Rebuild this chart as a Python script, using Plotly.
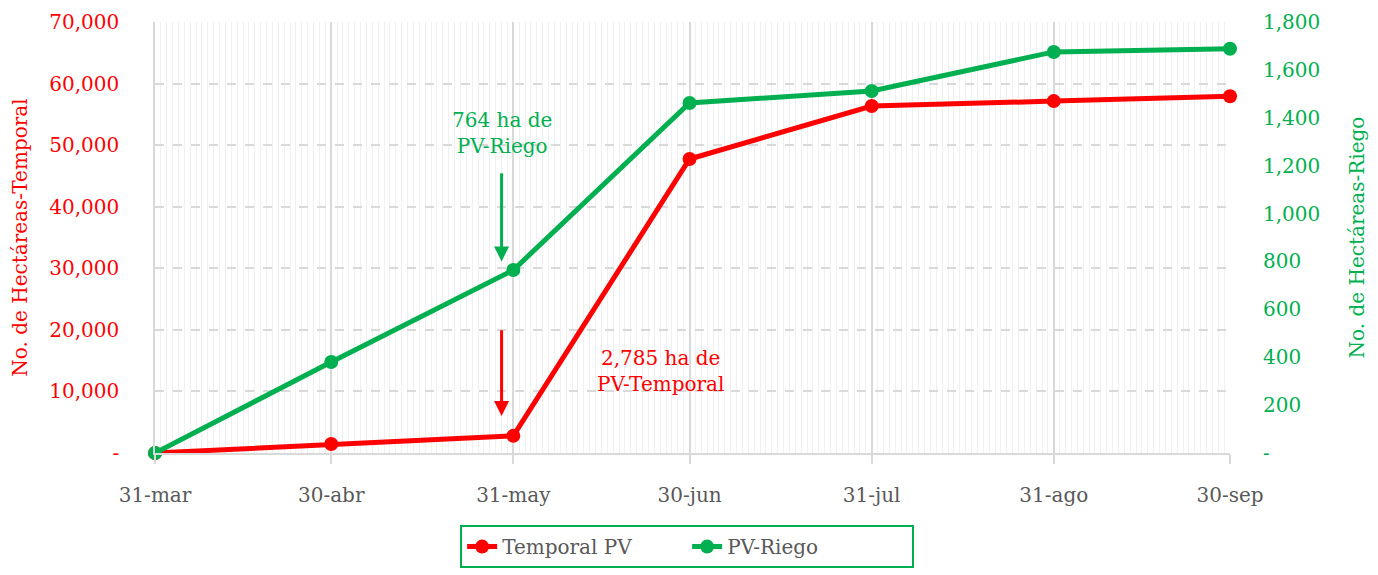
import plotly.graph_objects as go

dates = ["2023-03-31", "2023-04-30", "2023-05-31", "2023-06-30", "2023-07-31", "2023-08-31", "2023-09-30"]
tick_labels = ["31-mar", "30-abr", "31-may", "30-jun", "31-jul", "31-ago", "30-sep"]
temporal = [0, 1450, 2785, 47750, 56350, 57150, 57950]
riego = [0, 380, 764, 1462, 1512, 1675, 1688]

y1_ticks = list(range(0, 70001, 10000))
y1_text = ["-"] + [f"{v:,}" for v in y1_ticks[1:]]
y2_ticks = list(range(0, 1801, 200))
y2_text = ["-"] + [f"{v:,}" for v in y2_ticks[1:]]

RED = "#FF0000"
GREEN = "#00B050"
GRAY = "#595959"
FONT = "DejaVu Serif"
FS = 20

fig = go.Figure()
fig.add_trace(go.Scatter(
    x=dates, y=temporal, name="Temporal PV", mode="lines+markers",
    line=dict(color=RED, width=5), marker=dict(size=14, color=RED),
    cliponaxis=False, yaxis="y"))
fig.add_trace(go.Scatter(
    x=dates, y=riego, name="PV-Riego", mode="lines+markers",
    line=dict(color=GREEN, width=5), marker=dict(size=14, color=GREEN),
    cliponaxis=False, yaxis="y2"))

# annotations
fig.add_annotation(x="2023-05-29", y=800, xref="x", yref="y2",
                   ax="2023-05-29", ay=1175, axref="x", ayref="y2",
                   showarrow=True, arrowhead=2, arrowsize=1, arrowwidth=3,
                   arrowcolor=GREEN, text="")
fig.add_annotation(x="2023-05-29", y=6000, xref="x", yref="y",
                   ax="2023-05-29", ay=20200, axref="x", ayref="y",
                   showarrow=True, arrowhead=2, arrowsize=1, arrowwidth=3,
                   arrowcolor=RED, text="")
fig.add_annotation(x="2023-05-29", y=1336, xref="x", yref="y2",
                   text="764 ha de<br>PV-Riego", showarrow=False,
                   font=dict(family=FONT, size=FS, color=GREEN))
fig.add_annotation(x="2023-06-25", y=13300, xref="x", yref="y",
                   text="2,785 ha de<br>PV-Temporal", showarrow=False,
                   font=dict(family=FONT, size=FS, color=RED))

fig.update_layout(
    width=1370, height=567,
    margin=dict(l=147, r=148, t=14, b=122),
    paper_bgcolor="white", plot_bgcolor="white",
    font=dict(family=FONT, size=FS, color=GRAY),
    showlegend=True,
    legend=dict(orientation="h", x=0.495, xanchor="center",
                yref="container", y=0.088, yanchor="top",
                bordercolor=GREEN, borderwidth=2, font=dict(size=FS, color=GRAY),
                entrywidth=180, itemwidth=30,
                tracegroupgap=0),
    xaxis=dict(
        type="date", range=["2023-03-31", "2023-09-30"],
        tickvals=dates, ticktext=tick_labels,
        showgrid=True, gridcolor="#D9D9D9", gridwidth=1.5,
        ticks="outside", ticklen=9, tickcolor="#D9D9D9", tickwidth=1.5,
        ticklabelstandoff=14, automargin=False,
        showline=True, linecolor="#D9D9D9", linewidth=1.5,
        tickfont=dict(color=GRAY, size=FS),
        minor=dict(dtick=86400000, showgrid=True, gridcolor="#F0F0F0", gridwidth=1),
        zeroline=False,
    ),
    yaxis=dict(
        range=[0, 70000], tickvals=y1_ticks, ticktext=y1_text,
        showgrid=True, gridcolor="#D9D9D9", griddash="dash", gridwidth=1.5,
        tickfont=dict(color=RED, size=FS), ticklabelstandoff=30, automargin=False,
        title=dict(text="No. de Hectáreas-Temporal", font=dict(color=RED, size=FS), standoff=22),
        zeroline=False, showline=True, linecolor="#D9D9D9", linewidth=1.5,
    ),
    yaxis2=dict(
        range=[0, 1800], tickvals=y2_ticks, ticktext=y2_text,
        overlaying="y", side="right", showgrid=False,
        tickfont=dict(color=GREEN, size=FS), ticklabelstandoff=32, automargin=False,
        title=dict(text="No. de Hectáreas-Riego", font=dict(color=GREEN, size=FS), standoff=30),
        zeroline=False, showline=False,
    ),
)

fig.write_html("out.html")
